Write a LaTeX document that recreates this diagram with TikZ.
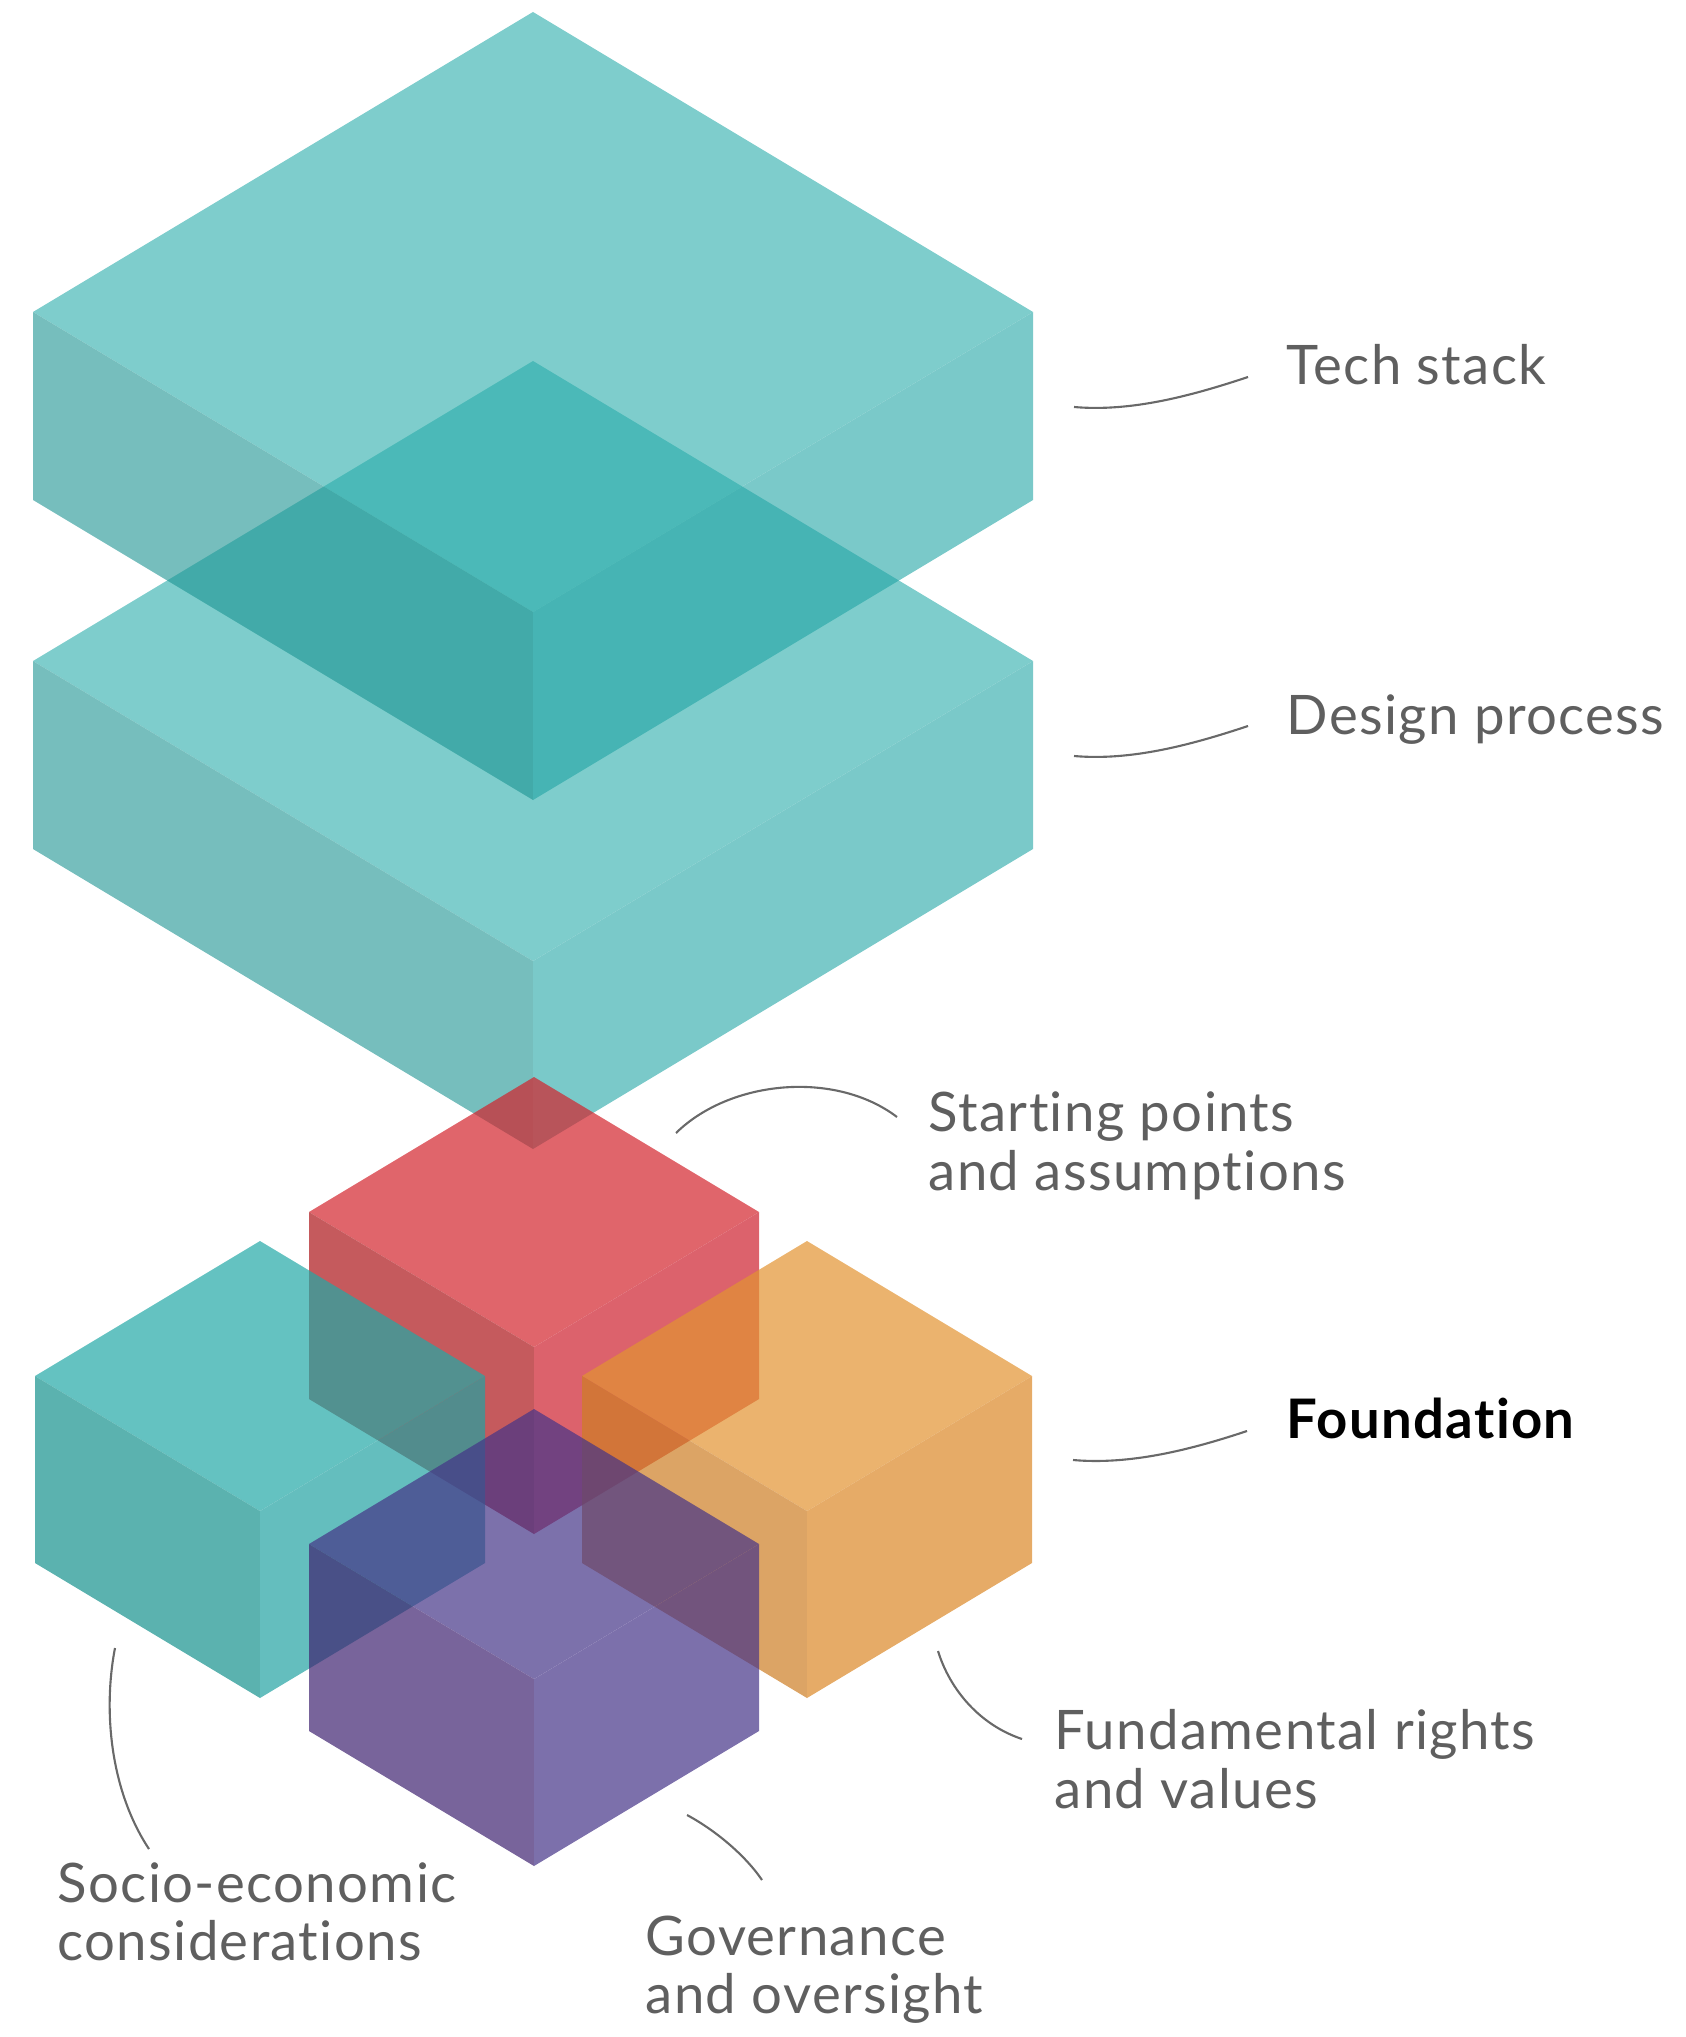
\documentclass[tikz,border=0pt]{standalone}
\usepackage{fontspec}
\setmainfont{Lato}[Ligatures={NoCommon}, LetterSpace=2.5]
\usepackage{xcolor}
\usepackage{tikz}
\usetikzlibrary{positioning}

\definecolor{slabtop}{RGB}{40,172,170}
\definecolor{slableft}{RGB}{27,147,145}
\definecolor{slabright}{RGB}{33,165,165}
\definecolor{redtop}{RGB}{211,35,44}
\definecolor{redleft}{RGB}{172,20,24}
\definecolor{redright}{RGB}{205,31,45}
\definecolor{tealtop}{RGB}{34,168,166}
\definecolor{tealleft}{RGB}{21,145,141}
\definecolor{tealright}{RGB}{34,162,162}
\definecolor{orangetop}{RGB}{226,147,49}
\definecolor{orangeleft}{RGB}{205,125,35}
\definecolor{orangeright}{RGB}{219,136,38}
\definecolor{purpletop}{RGB}{69,52,136}
\definecolor{purpleleft}{RGB}{62,34,112}
\definecolor{purpleright}{RGB}{69,51,136}
\definecolor{labelgrey}{RGB}{95,95,95}
\definecolor{leadgrey}{RGB}{105,105,105}

% top vertex x, top vertex y, half width, half depth, height, colour, opacity
\def\isobox#1#2#3#4#5#6#7{%
\begin{scope}[transparency group, opacity=#7]
\fill[#6top] (#1,#2) -- ++(-#3,#4) -- ++(#3,#4) -- ++(#3,-#4) -- cycle;
\fill[#6left] (#1-#3,#2+#4) -- ++(#3,#4) -- ++(0,#5) -- ++(-#3,-#4) -- cycle;
\fill[#6right] (#1,#2+2*#4) -- ++(#3,-#4) -- ++(0,#5) -- ++(-#3,#4) -- cycle;
\end{scope}}

\tikzset{
  lbl/.style={anchor=base west, inner sep=0pt, align=left, text=labelgrey,
    font=\fontsize{15.5}{16.5}\selectfont},
  leader/.style={draw=leadgrey, line width=0.6pt}
}

\begin{document}
\begin{tikzpicture}[x=0.01cm, y=-0.01cm]
\useasboundingbox (0,0) rectangle (1685,2037);

\isobox{533}{361}{500}{300}{188}{slab}{0.6}
\isobox{533}{12}{500}{300}{188}{slab}{0.6}

\isobox{534}{1077}{225}{135}{187}{red}{0.7}
\isobox{260}{1241}{225}{135}{187}{teal}{0.7}
\isobox{807}{1241}{225}{135}{187}{orange}{0.7}
\isobox{534}{1409}{225}{135}{187}{purple}{0.7}

% base of a two-line label is the baseline of its second line
\node[lbl] (tech) at (1286,385) {Tech stack};
\node[lbl] (design) at (1286,734) {Design process};
\node[lbl, text=black, font=\fontsize{15.5}{16.5}\selectfont\bfseries] (found) at (1286,1438) {Foundation};
\node[lbl] (start) at (928,1190) {Starting points\\and assumptions};
\node[lbl] (rights) at (1054,1808) {Fundamental rights\\and values};
\node[lbl] (gov) at (645,2013) {Governance\\and oversight};
\node[lbl] (socio) at (57,1960) {Socio-economic\\considerations};

\coordinate (tech-a) at (1074,407);
\coordinate (tech-b) at (1248,377);
\coordinate (design-a) at (1074,756);
\coordinate (design-b) at (1248,726);
\coordinate (found-a) at (1073,1460);
\coordinate (found-b) at (1247,1431);
\coordinate (start-a) at (676,1133);
\coordinate (start-b) at (897,1117);
\coordinate (rights-a) at (938,1651);
\coordinate (rights-b) at (1022,1739);
\coordinate (gov-a) at (687,1815);
\coordinate (gov-b) at (762,1880);
\coordinate (socio-a) at (115,1648);
\coordinate (socio-b) at (149,1849);

\draw[leader] (tech-a) .. controls +(57,5) and +(-57,19) .. (tech-b);
\draw[leader] (design-a) .. controls +(57,5) and +(-57,19) .. (design-b);
\draw[leader] (found-a) .. controls +(57,5) and +(-57,19) .. (found-b);
\draw[leader] (start-a) .. controls +(54,-53) and +(-62,-47) .. (start-b);
\draw[leader] (rights-a) .. controls +(12,39) and +(-42,-14) .. (rights-b);
\draw[leader] (gov-a) .. controls +(28,15) and +(-17,-25) .. (gov-b);
\draw[leader] (socio-a) .. controls +(-12,62) and +(-39,-59) .. (socio-b);
\end{tikzpicture}
\end{document}
